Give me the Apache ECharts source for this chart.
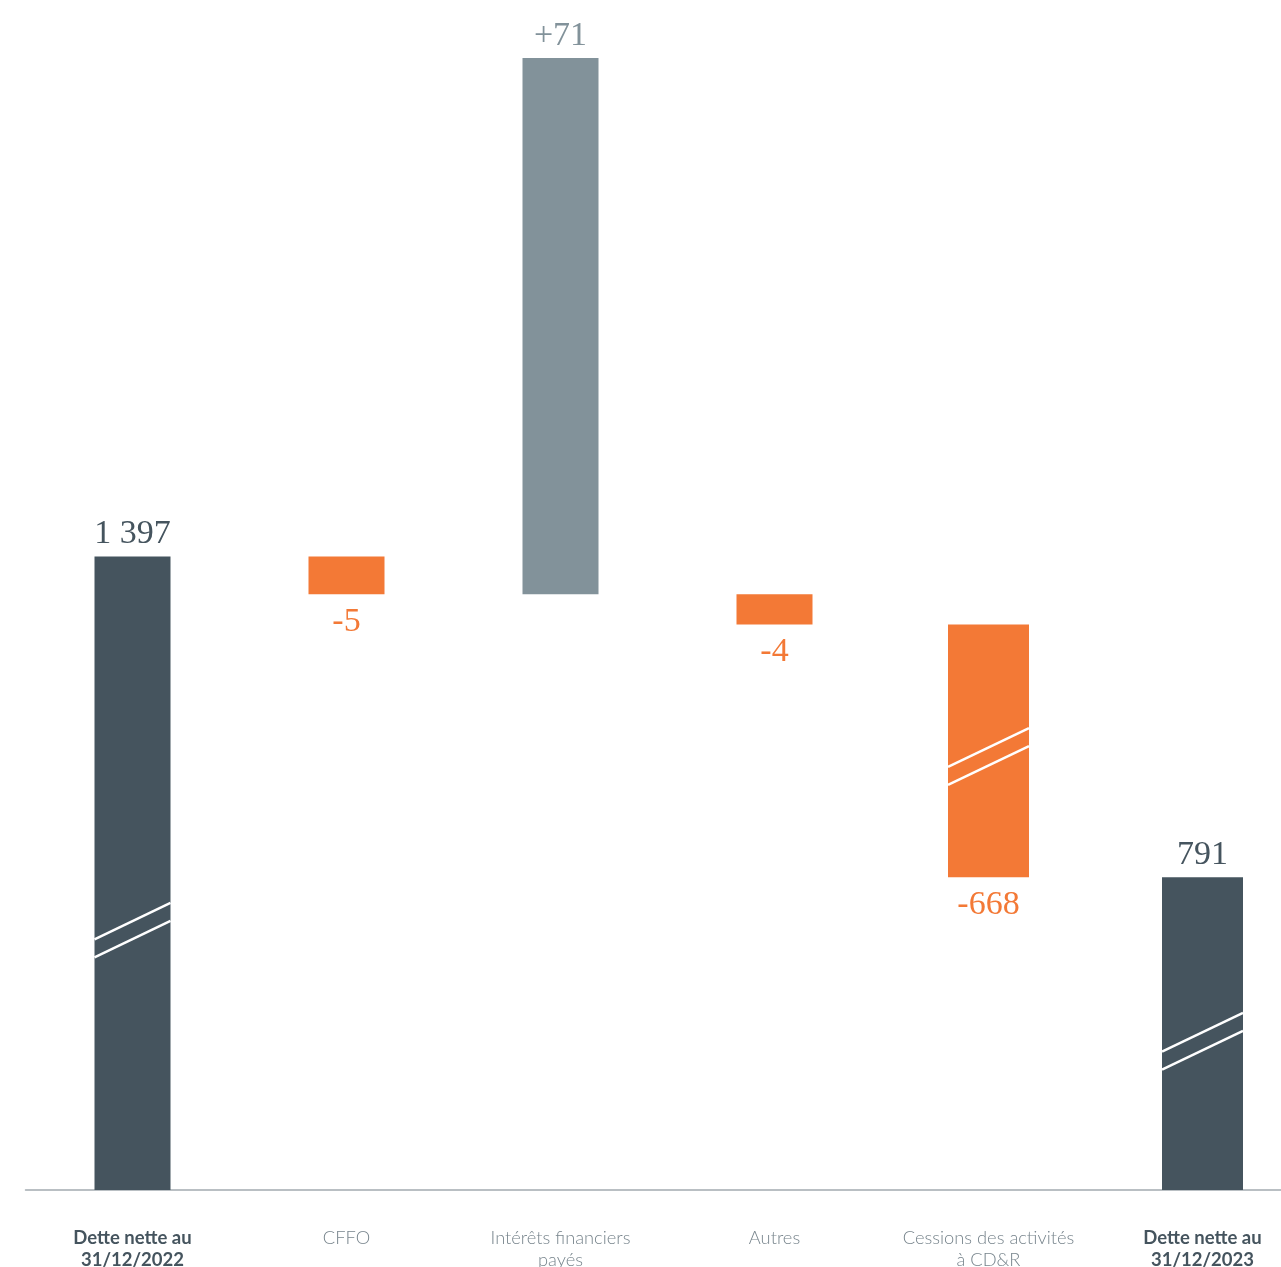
<!DOCTYPE html>
<html>
<head>
<meta charset="utf-8">
<script src="https://cdn.jsdelivr.net/npm/echarts@6/dist/echarts.min.js"></script>
<style>
  html, body { margin: 0; padding: 0; background: #ffffff; }
  #chart { width: 1281px; height: 1267px; }
</style>
</head>
<body>
<div id="chart"></div>
<script>
// ---- data ----
const categories = [
  'Dette nette au\n31/12/2022',
  'CFFO',
  'Intérêts financiers\npayés',
  'Autres',
  'Cessions des activités\nà CD&R',
  'Dette nette au\n31/12/2023'
];
const kinds = ['total', 'delta', 'delta', 'delta', 'delta', 'total'];
const values = [1397, -5, 71, -4, -668, 791];          // printed values
const barLow = [0, 1392, 1392, 1388, 791, 0];           // drawn bar bottom (axis units)
const barHigh = [1397, 1397, 1463, 1392, 1388, 791];    // drawn bar top (axis units)
const breakMarks = [784, null, null, null, 807, 19.7];  // where the bar shows a break sign
const axisBreaks = [[25, 774.6], [810, 1373.5]];         // compressed value ranges

// ---- styling ----
const barWidths = [76, 76, 76, 76, 81, 81];
const colTotal = '#45545e';
const colUp = '#82929a';
const colDown = '#f37936';

function fmt(v, kind) {
  const s = String(Math.abs(v)).replace(/\B(?=(\d{3})+(?!\d))/g, '\u00a0');
  if (kind === 'total') return (v < 0 ? '-' : '') + s;
  return (v < 0 ? '-' : '+') + s;
}
function colorOf(i) {
  if (kinds[i] === 'total') return colTotal;
  return values[i] < 0 ? colDown : colUp;
}

const seriesData = categories.map((c, i) => [
  i, barLow[i], barHigh[i], breakMarks[i] == null ? -1 : breakMarks[i]
]);

const chart = echarts.init(document.getElementById('chart'), null, { renderer: 'canvas' });
chart.setOption({
  animation: false,
  backgroundColor: '#ffffff',
  grid: { left: 25.5, top: 58, width: 1284, height: 1132, containLabel: false, outerBoundsMode: 'none' },
  xAxis: {
    type: 'category',
    data: categories,
    axisTick: { show: false },
    axisLine: { lineStyle: { color: '#a3abb0', width: 1.5 } },
    axisLabel: {
      interval: 0,
      margin: 37,
      fontFamily: 'Lato',
      fontSize: 18.3,
      fontWeight: 300,
      lineHeight: 22,
      color: '#77848c',
      formatter: function (val, idx) {
        if (kinds[idx] === 'total') {
          return val.split('\n').map(l => '{b|' + l + '}').join('\n');
        }
        return val;
      },
      rich: {
        b: { fontFamily: 'Lato', fontSize: 18.5, fontWeight: 'bold', color: colTotal, lineHeight: 22 }
      }
    }
  },
  yAxis: {
    type: 'value',
    min: 0,
    max: 1463,
    show: false,
    splitLine: { show: false },
    breaks: axisBreaks.map(b => ({ start: b[0], end: b[1], gap: 0 })),
    breakArea: { show: false }
  },
  series: [{
    type: 'custom',
    encode: { x: 0, y: [1, 2] },
    data: seriesData,
    renderItem: function (params, api) {
      const i = api.value(0);
      const low = api.value(1), high = api.value(2), hatch = api.value(3);
      const pTop = api.coord([i, high]);
      const pBot = api.coord([i, low]);
      const w = barWidths[i];
      const x0 = pTop[0] - w / 2;
      const color = colorOf(i);
      const children = [{
        type: 'rect',
        shape: { x: x0, y: pTop[1], width: w, height: pBot[1] - pTop[1] },
        style: { fill: color }
      }];
      if (hatch >= 0) {
        const ph = api.coord([i, hatch]);
        const rise = 0.48 * w;
        [-9, 9].forEach(off => {
          children.push({
            type: 'line',
            shape: { x1: x0, y1: ph[1] + off + rise / 2, x2: x0 + w, y2: ph[1] + off - rise / 2 },
            style: { stroke: '#ffffff', lineWidth: 2.5 }
          });
        });
      }
      const down = kinds[i] === 'delta' && values[i] < 0;
      children.push({
        type: 'text',
        style: {
          text: fmt(values[i], kinds[i]),
          x: pTop[0],
          y: down ? pBot[1] + 28 : pTop[1] - 22,
          align: 'center',
          verticalAlign: 'middle',
          fontFamily: 'Liberation Serif',
          fontSize: 34,
          fill: color
        }
      });
      return { type: 'group', children: children };
    }
  }]
});
</script>
</body>
</html>
